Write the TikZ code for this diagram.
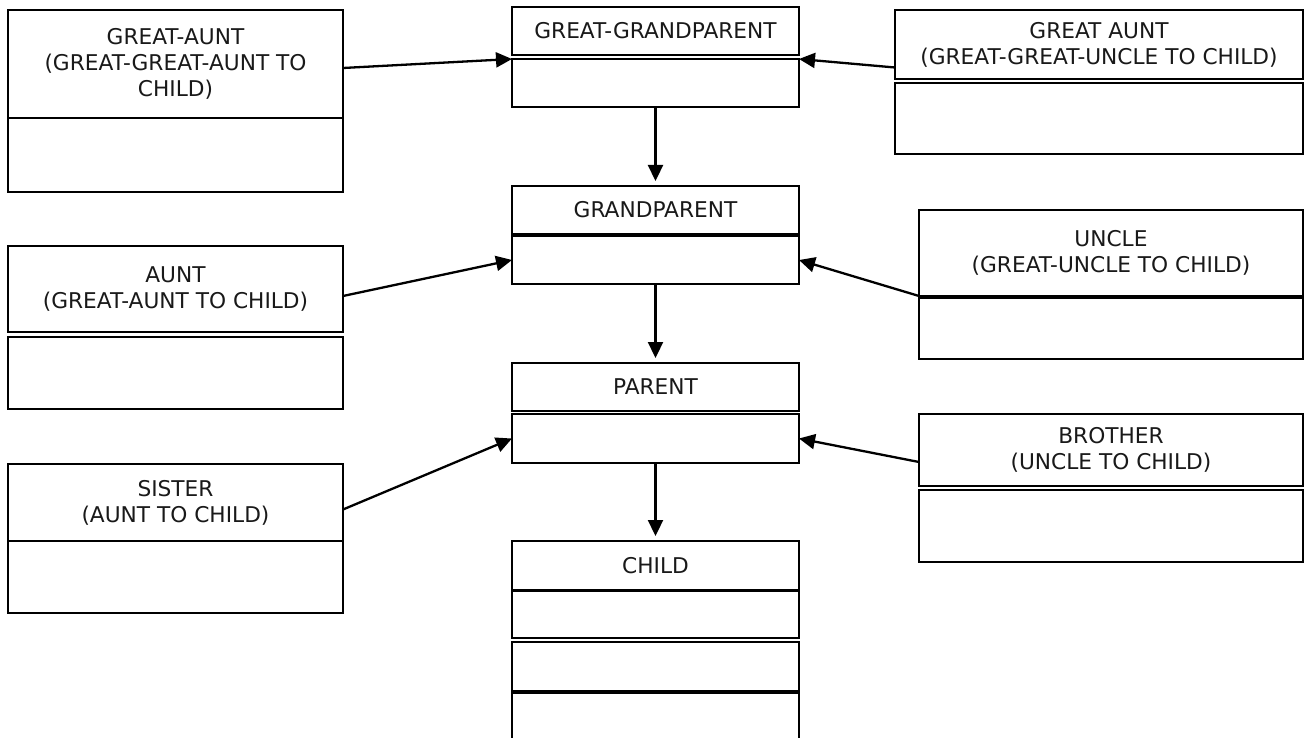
\documentclass[tikz,border=0pt]{standalone}
\usepackage{fontspec}
\setmainfont{DejaVu Sans}
\usetikzlibrary{arrows.meta}
\begin{document}
\begin{tikzpicture}[x=1pt,y=-1pt,
  box/.style={draw=black, line width=2.2pt, rectangle, inner sep=0pt, outer sep=0pt,
    align=center, font=\fontsize{21.7}{25.8}\selectfont, text=black!90},
  conn/.style={line width=2.3pt, -{Triangle[length=16pt,width=15pt]}},
  down/.style={conn, shorten >=5pt}]
\useasboundingbox (0,0) rectangle (1304,738);
\fill[white] (0,0) rectangle (1304,738);
% helper: box from (x1,y1) to (x2,y2)
\newcommand{\bx}[6][]{\node[box, minimum width=#4-#2, minimum height=#5-#3, anchor=north west, #1] (#6) at (#2,#3)}
% left column
\bx{8}{10}{343}{118}{ga1} {GREAT-AUNT\\(GREAT-GREAT-AUNT TO\\CHILD)};
\bx{8}{118}{343}{192}{ga2} {};
\bx{8}{246}{343}{332}{au1} {AUNT\\(GREAT-AUNT TO CHILD)};
\bx{8}{337}{343}{409}{au2} {};
\bx{8}{464}{343}{541}{si1} {SISTER\\(AUNT TO CHILD)};
\bx{8}{541}{343}{613}{si2} {};
% centre column
\bx{512}{7}{799}{55}{ggp1} {GREAT-GRANDPARENT};
\bx{512}{59}{799}{107}{ggp2} {};
\bx{512}{186}{799}{234}{gp1} {GRANDPARENT};
\bx{512}{236}{799}{284}{gp2} {};
\bx{512}{363}{799}{411}{p1} {PARENT};
\bx{512}{414}{799}{463}{p2} {};
\bx{512}{541}{799}{590}{c1} {CHILD};
\bx{512}{591}{799}{638}{c2} {};
\bx{512}{642}{799}{691}{c3} {};
\bx{512}{693}{799}{750}{c4} {};
% right column
\bx{895}{10}{1303}{79}{gar1} {GREAT AUNT\\(GREAT-GREAT-UNCLE TO CHILD)};
\bx{895}{83}{1303}{154}{gar2} {};
\bx{919}{210}{1303}{296}{un1} {UNCLE\\(GREAT-UNCLE TO CHILD)};
\bx{919}{298}{1303}{359}{un2} {};
\bx{919}{414}{1303}{486}{br1} {BROTHER\\(UNCLE TO CHILD)};
\bx{919}{490}{1303}{562}{br2} {};
% connectors
\draw[conn] ([yshift=-4pt]ga1.east) -- (ggp2.north west);
\draw[conn] ([yshift=-23pt]gar1.west) -- (ggp2.north east);
\draw[conn] ([yshift=-7pt]au1.east) -- (gp2.west);
\draw[conn] (un1.south west) -- (gp2.east);
\draw[conn] ([yshift=-7pt]si1.east) -- (p2.west);
\draw[conn] ([yshift=-12pt]br1.west) -- (p2.east);
\draw[down] (ggp2.south) -- (gp1.north);
\draw[down] (gp2.south) -- (p1.north);
\draw[down] (p2.south) -- (c1.north);
\end{tikzpicture}
\end{document}
